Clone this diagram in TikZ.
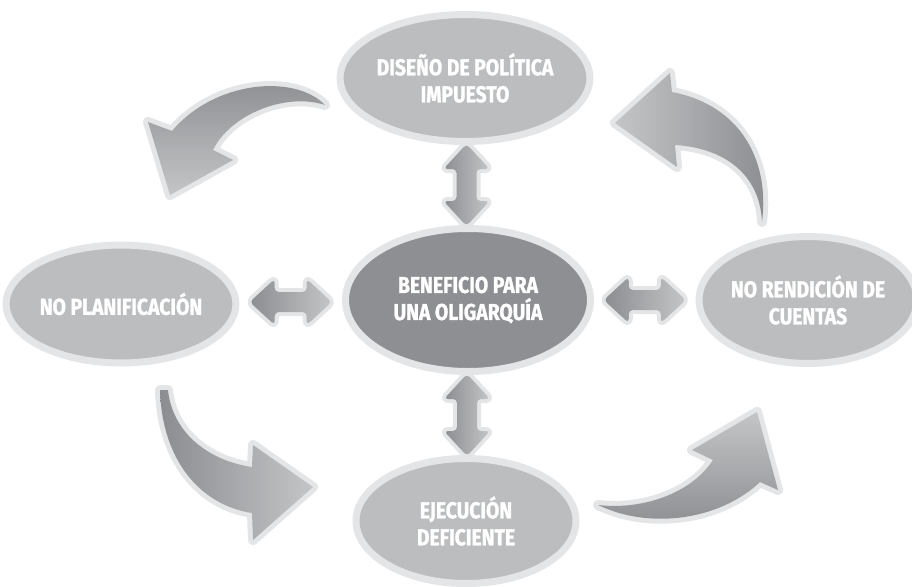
\documentclass[tikz,border=0pt]{standalone}
\usepackage{fontspec}
\newfontfamily\lblfont{Fira Sans}[FakeStretch=0.84,FakeBold=1.2]
\usetikzlibrary{calc,shapes.geometric}
\definecolor{bord}{HTML}{E4E5E6}
\definecolor{ellfill}{HTML}{BCBDBF}
\definecolor{ctrfill}{HTML}{8E8F93}
\definecolor{arrdark}{HTML}{8C8D90}
\definecolor{arrlight}{HTML}{C4C5C7}
\tikzset{
  ell/.style={ellipse, draw=bord, line width=7pt, fill=ellfill, inner sep=0pt,
    text=white, align=center, font=\lblfont\bfseries\fontsize{23}{27}\selectfont},
  curv/.style={preaction={draw=bord, line width=10pt, line join=round}},
  pics/dblarr/.style={code={
    \path[preaction={draw=bord,line width=8pt,line join=round},
      left color=arrdark, right color=arrlight, rounded corners=4pt]
      (-41,0) -- (-16,23) -- (-16,10) -- (16,10) -- (16,23) -- (41,0)
      -- (16,-23) -- (16,-10) -- (-16,-10) -- (-16,-23) -- cycle;
  }}
}
\begin{document}
\begin{tikzpicture}[x=1pt,y=-1pt]
\useasboundingbox (0,0) rectangle (912,586);
% ellipses
\node[ell, minimum width=218pt, minimum height=127pt] (top) at (465,78) {DISEÑO DE POLÍTICA\\IMPUESTO};
\node[ell, minimum width=219pt, minimum height=118pt] (left) at (121,304) {NO PLANIFICACIÓN};
\node[ell, fill=ctrfill, minimum width=245pt, minimum height=143pt] (ctr) at (468,300) {BENEFICIO PARA\\UNA OLIGARQUÍA};
\node[ell, minimum width=204pt, minimum height=127pt] (right) at (808,300) {NO RENDICIÓN DE\\CUENTAS};
\node[ell, minimum width=220pt, minimum height=125pt] (bot) at (466,521) {EJECUCIÓN\\DEFICIENTE};
% double arrows
\pic[rotate=90] at ($(top.south)!0.5!(ctr.north)$) {dblarr};
\pic[rotate=90] at ($(ctr.south)!0.5!(bot.north)$) {dblarr};
\pic at ($(left.east)!0.5!(ctr.west)$) {dblarr};
\pic at ($(ctr.east)!0.5!(right.west)$) {dblarr};
% curved arrows
\path[curv, top color=arrdark, bottom color=arrlight]
  (325,105) .. controls (295,74) and (215,80) .. (172,131) -- (148,122) -- (170,195)
  -- (233,160) -- (213,150) .. controls (230,115) and (285,92) .. (325,105) -- cycle;
\path[curv, left color=arrlight, right color=arrdark]
  (762,222) .. controls (770,160) and (740,105) .. (672,92) -- (670,73) -- (615,123)
  -- (677,167) -- (675,145) .. controls (725,148) and (760,175) .. (762,222) -- cycle;
\path[curv, left color=arrdark, right color=arrlight]
  (160,390) .. controls (162,460) and (200,505) .. (252,513) -- (253,540) -- (313,487)
  -- (253,445) -- (252,467) .. controls (205,460) and (172,430) .. (168,390) -- cycle;
\path[curv, top color=arrlight, bottom color=arrdark]
  (598,505) .. controls (650,530) and (720,520) .. (760,482) -- (778,490) -- (757,412)
  -- (692,450) -- (713,460) .. controls (690,495) and (640,510) .. (598,505) -- cycle;
\end{tikzpicture}
\end{document}
